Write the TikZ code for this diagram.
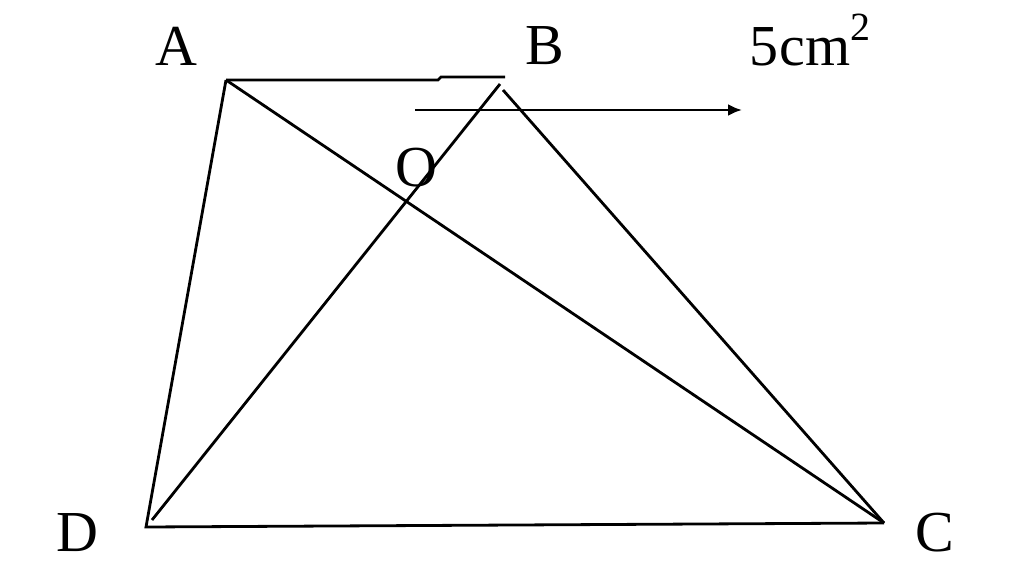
\documentclass[tikz,border=0pt]{standalone}
\usepackage{fontspec}
\setmainfont{Liberation Serif}
\usetikzlibrary{arrows.meta}
\begin{document}
\begin{tikzpicture}[x=1pt,y=-1pt,
  seg/.style={line width=2.8pt,line join=miter},
  lbl/.style={font=\fontsize{58}{66}\selectfont,inner sep=0pt}]
\useasboundingbox (0,0) rectangle (1024,575);
\coordinate (A) at (226,80);
\coordinate (A1) at (438,80);
\coordinate (A2) at (441,77);
\coordinate (B) at (505,77);
\coordinate (Bd) at (500,84);
\coordinate (Bc) at (503,90);
\coordinate (D) at (146,527);
\coordinate (Dd) at (152,520);
\coordinate (C) at (884,523);
\coordinate (Ar0) at (415,110);
\coordinate (Ar1) at (742,110);
\draw[seg] (A) -- (A1) -- (A2) -- (B);
\draw[seg] (A) -- (D) -- (C);
\draw[seg] (A) -- (C);
\draw[seg] (Bd) -- (Dd);
\draw[seg] (Bc) -- (C);
\draw[seg,-{Latex[length=14pt,width=12pt]}] (Ar0) -- (Ar1);
\node[lbl] (la) at (176,46) {A};
\node[lbl] (lb) at (545,46) {B};
\node[lbl] (lo) at (416,168) {O};
\node[lbl] (ld) at (77,533) {D};
\node[lbl] (lc) at (935,533) {C};
\node[lbl] (l5) at (810,40) {5\kern1pt cm\raisebox{0.42em}{\fontsize{40}{46}\selectfont 2}};
\end{tikzpicture}
\end{document}
